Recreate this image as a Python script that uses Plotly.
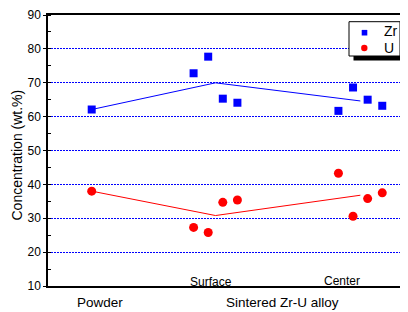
import numpy as np
import plotly.graph_objects as go

# ---- data ----
groups = ["Powder", "Surface", "Center"]
group_pos = [1.0, 2.0, 3.17]
zr_powder = [62.1]
u_powder = [38.0]
zr_surface = [72.8, 77.7, 65.3, 64.1]
u_surface = [27.3, 25.8, 34.7, 35.4]
zr_center = [61.7, 68.6, 65.0, 63.2]
u_center = [43.3, 30.6, 35.8, 37.5]
y_ticks = [10, 20, 30, 40, 50, 60, 70, 80, 90]

# ---- layout helpers (page body has an 8px margin) ----
OFF = 8
W, H = 408 - OFF, 312 - OFF
ML, MR, MT, MB = 48 - OFF, 0, 15 - OFF, 26
PW, PH = W - ML - MR, H - MT - MB
spacing = 0.118


def px(xr):
    """reference-image x pixel -> paper x"""
    return (xr - OFF - ML) / PW


def py(yr):
    """reference-image y pixel -> paper y"""
    return (H - MB - (yr - OFF)) / PH


def rep_x(center, n):
    return [center + (i - (n - 1) / 2) * spacing for i in range(n)]


zr_x = [group_pos[0]] + rep_x(group_pos[1], len(zr_surface)) + rep_x(group_pos[2], len(zr_center))
zr_y = zr_powder + zr_surface + zr_center
u_x = [group_pos[0]] + rep_x(group_pos[1], len(u_surface)) + rep_x(group_pos[2], len(u_center))
u_y = u_powder + u_surface + u_center

zr_mean = [np.mean(zr_powder), np.mean(zr_surface), np.mean(zr_center)]
u_mean = [np.mean(u_powder), np.mean(u_surface), np.mean(u_center)]

BLUE = "#0000FF"
RED = "#FF0000"
FONT = "Liberation Sans, Arial, sans-serif"

fig = go.Figure()
fig.add_trace(go.Scatter(x=group_pos, y=zr_mean, mode="lines",
                         line=dict(color=BLUE, width=1), showlegend=False, hoverinfo="skip"))
fig.add_trace(go.Scatter(x=group_pos, y=u_mean, mode="lines",
                         line=dict(color=RED, width=1), showlegend=False, hoverinfo="skip"))
fig.add_trace(go.Scatter(x=zr_x, y=zr_y, mode="markers", name="Zr",
                         marker=dict(symbol="square", size=8, color=BLUE)))
fig.add_trace(go.Scatter(x=u_x, y=u_y, mode="markers", name="U",
                         marker=dict(symbol="circle", size=9, color=RED)))

scale = 123.8  # px per x unit
x0 = group_pos[0] - (91.7 - 48) / scale
x1 = x0 + PW / scale

fig.update_layout(
    width=W, height=H,
    margin=dict(l=ML, r=MR, t=MT, b=MB, pad=0),
    paper_bgcolor="white", plot_bgcolor="white",
    font=dict(family=FONT, size=12, color="black"),
    xaxis=dict(range=[x0, x1], showgrid=False, zeroline=False, showticklabels=False,
               ticks="", showline=True, linecolor="black", linewidth=1.5, mirror=True),
    yaxis=dict(range=[10, 90], tickvals=y_ticks, ticktext=[str(v) for v in y_ticks],
               ticks="outside", ticklen=3, tickcolor="black", tickwidth=1,
               minor=dict(dtick=5, ticks="inside", ticklen=3, tickcolor="black", showgrid=False),
               showgrid=True, gridcolor=BLUE, griddash="2px,1px", gridwidth=1,
               zeroline=False, showline=True, linecolor="black", linewidth=1.5,
               tickfont=dict(size=12)),
    showlegend=False,
)

# y-axis title
fig.add_annotation(text="Concentration (wt.%)", xref="paper", yref="paper",
                   x=px(16.5), y=py(155), textangle=-90, showarrow=False,
                   xanchor="center", yanchor="middle", font=dict(size=14, family=FONT))

# ---- legend (drawn with shapes + text) ----
lg_l, lg_r, lg_t, lg_b = 349, 400, 21.7, 56
sh = 4.5
fig.add_shape(type="rect", xref="paper", yref="paper",
              x0=px(lg_l + sh), x1=px(lg_r + sh), y0=py(lg_b + sh), y1=py(lg_t + sh),
              fillcolor="black", line=dict(width=0), layer="above")
fig.add_shape(type="rect", xref="paper", yref="paper",
              x0=px(lg_l), x1=px(lg_r), y0=py(lg_b), y1=py(lg_t),
              fillcolor="white", line=dict(color="black", width=1), layer="above")
sq = 2.8
fig.add_shape(type="rect", xref="paper", yref="paper",
              x0=px(364.5 - sq), x1=px(364.5 + sq), y0=py(32.7 + sq), y1=py(32.7 - sq),
              fillcolor=BLUE, line=dict(width=0), layer="above")
cr = 3.2
fig.add_shape(type="circle", xref="paper", yref="paper",
              x0=px(364.3 - cr), x1=px(364.3 + cr), y0=py(48 + cr), y1=py(48 - cr),
              fillcolor=RED, line=dict(width=0), layer="above")
for label, ly in [("Zr", 31.5), ("U", 48)]:
    fig.add_annotation(text=label, xref="paper", yref="paper", x=px(381.5), y=py(ly),
                       xanchor="left", yanchor="middle", showarrow=False,
                       font=dict(size=14, family=FONT, color="black"))

annos = [
    ("Powder", 100, 302, 13.5),
    ("Sintered Zr-U alloy", 282, 302, 13.5),
    ("Surface", 211, 281.5, 12),
    ("Center", 342, 281, 12),
]
for text, xr, yr, fs in annos:
    fig.add_annotation(text=text, xref="paper", yref="paper",
                       x=px(xr), y=py(yr),
                       xanchor="center", yanchor="middle", showarrow=False,
                       font=dict(size=fs, family=FONT, color="black"))

fig.write_html("out.html")
